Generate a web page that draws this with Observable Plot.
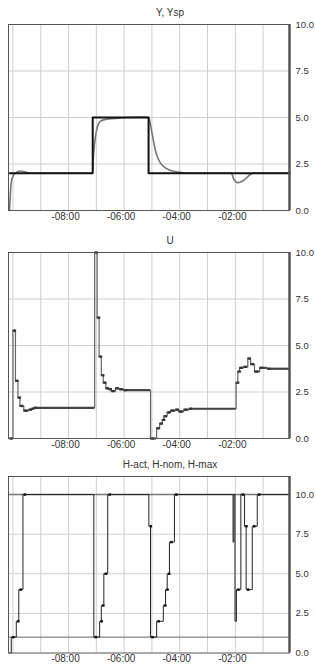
<!DOCTYPE html>
<html>
<head>
<meta charset="utf-8">
<script src="https://cdn.jsdelivr.net/npm/d3@7"></script>
<script src="https://cdn.jsdelivr.net/npm/@observablehq/plot@0.6"></script>
<style>
  html, body { margin: 0; padding: 0; background: #fff; overflow: hidden; }
  #wrap { position: relative; width: 315px; height: 666px; }
  .title { position: absolute; left: 25px; width: 290px; text-align: center;
           font: 10px "Liberation Sans", Arial, sans-serif; color: #333; line-height: 12px; }
</style>
</head>
<body>
<div id="wrap"></div>
<script>
// ---- axes / ticks ----
const xDomain = [-10.16, -0.05];               // minutes
const gridMinutes = [-10, -9, -8, -7, -6, -5, -4, -3, -2, -1];
const xTickMinutes = [-8, -6, -4, -2];
const yTicks = [0, 2.5, 5, 7.5, 10];

// ---- Panel 1: Y, Ysp ----
const ySpTime  = [-10.12, -7.13, -5.12, -0.05];
const ySpValue = [2, 5, 2, 2];
const yTime  = [-10.12, -10.09, -10.05, -9.98, -9.87, -9.73, -9.58, -9.37, -7.14, -7.10, -7.03, -6.96, -6.85, -6.67, -6.31, -5.95, -5.42, -5.12, -4.99, -4.87, -4.75, -4.57, -4.33, -3.97, -3.73, -2.14, -2.06, -1.92, -1.78, -1.60, -1.45, -1.35, -1.17, -0.05];
const yValue = [0, 1.0, 1.6, 1.9, 2.05, 2.12, 2.08, 2.0, 2.0, 3.0, 4.0, 4.5, 4.8, 4.9, 4.95, 5.0, 5.02, 5.0, 4.1, 3.2, 2.7, 2.35, 2.15, 2.05, 2.0, 2.0, 1.7, 1.5, 1.55, 1.75, 1.95, 2.02, 2.0, 2.0];

// ---- Panel 2: U ----
const uTime  = [-10.12, -10.0, -9.91, -9.82, -9.75, -9.61, -9.43, -9.34, -9.25, -7.06, -6.97, -6.90, -6.82, -6.75, -6.66, -6.55, -6.46, -6.31, -6.17, -6.02, -5.05, -4.83, -4.72, -4.63, -4.57, -4.45, -4.33, -4.15, -4.03, -3.85, -3.67, -1.97, -1.91, -1.85, -1.70, -1.55, -1.45, -1.31, -1.12, -0.85, -0.05];
const uValue = [0, 5.8, 3.1, 2.2, 1.75, 1.5, 1.55, 1.6, 1.65, 10, 6.5, 4.4, 3.4, 3.0, 2.7, 2.65, 2.55, 2.7, 2.65, 2.6, 0, 0.55, 0.8, 1.0, 1.2, 1.4, 1.5, 1.55, 1.45, 1.55, 1.6, 3.0, 3.6, 3.8, 3.85, 4.3, 4.0, 3.6, 3.8, 3.75, 3.7];

// ---- Panel 3: H-act, H-nom, H-max ----
const hActTime  = [-10.12, -10.06, -9.88, -9.79, -9.64, -7.09, -6.88, -6.82, -6.73, -6.59, -5.11, -5.05, -4.83, -4.59, -4.51, -4.45, -4.37, -4.19, -2.08, -2.05, -2.01, -1.96, -1.80, -1.67, -1.61, -1.39, -1.21, -0.05];
const hActValue = [0, 1, 2, 4, 10, 1, 2, 3, 5, 10, 8, 1, 2, 3, 4, 5, 7, 10, 7, 10, 2, 4, 10, 8, 4, 8, 10, 10];
const hNomTime  = [-10.16, -0.05];
const hNomValue = [1, 1];
const hMaxTime  = [-10.16, -0.05];
const hMaxValue = [10, 10];

const titles = ["Y, Ysp", "U", "H-act, H-nom, H-max"];

const zip = (ts, vs) => ts.map((t, i) => ({t, v: vs[i], t2: i < ts.length - 1 ? ts[i + 1] : t, dur: i < ts.length - 1 ? ts[i + 1] - t : 0}));
const fmtX = d => "-" + String(Math.abs(d)).padStart(2, "0") + ":00";
const FONT = '"Liberation Sans", Arial, sans-serif';

function panel({height, marginTop, marginBottom, yDomain, marks}) {
  return Plot.plot({
    width: 315, height, marginLeft: 8, marginRight: 26, marginTop, marginBottom,
    style: {background: "transparent", fontFamily: FONT, fontSize: "10px", color: "#333", overflow: "visible"},
    x: {domain: xDomain},
    y: {domain: yDomain},
    marks: [
      Plot.gridX(gridMinutes, {stroke: "#cfcfcf", strokeOpacity: 1, strokeWidth: 1}),
      Plot.gridY(yTicks.filter(d => d > 0 && d < yDomain[1]), {stroke: "#cfcfcf", strokeOpacity: 1, strokeWidth: 1}),
      ...marks,
      Plot.frame({stroke: "#555"}),
      Plot.ruleX([xDomain[1]], {stroke: "#555", strokeWidth: 2.5}),
      Plot.axisX(xTickMinutes, {tickSize: 0, tickPadding: 2, tickFormat: fmtX, dx: -3, label: null, fill: "#333"}),
      Plot.axisY(yTicks, {anchor: "right", tickSize: 0, tickPadding: 6, tickFormat: d => d.toFixed(1), label: null, fill: "#333", fontSize: 9.5})
    ]
  });
}

const p1 = panel({
  height: 224, marginTop: 24, marginBottom: 14, yDomain: [0, 10],
  marks: [
    Plot.line(zip(yTime, yValue), {x: "t", y: "v", stroke: "#777", strokeWidth: 1.6, curve: "monotone-x"}),
    Plot.line(zip(ySpTime, ySpValue), {x: "t", y: "v", stroke: "#111", strokeWidth: 2, curve: "step-after"})
  ]
});

const uData = zip(uTime, uValue);
const p2 = panel({
  height: 230, marginTop: 30, marginBottom: 14, yDomain: [0, 10],
  marks: [
    Plot.line(uData, {x: "t", y: "v", stroke: "#666", strokeWidth: 1.2, curve: "step-after"}),
    Plot.ruleY(uData.slice(0, -1), {y: "v", x1: "t", x2: "t2", stroke: "#444", strokeWidth: 2.2}),
    Plot.dot(uData.slice(0, -1), {x: "t", y: "v", symbol: "square", r: 1.3, fill: "#333", stroke: null, dx: 2})
  ]
});

const hData = zip(hActTime, hActValue);
const p3 = panel({
  height: 222, marginTop: 32, marginBottom: 13.5, yDomain: [0, 11.14],
  marks: [
    Plot.line(zip(hMaxTime, hMaxValue), {x: "t", y: "v", stroke: "#777", strokeWidth: 1.5}),
    Plot.line(zip(hNomTime, hNomValue), {x: "t", y: "v", stroke: "#666", strokeWidth: 1}),
    Plot.line(hData, {x: "t", y: "v", stroke: "#222", strokeWidth: 1, curve: "step-after"}),
    Plot.dot(hData.slice(1, -1).filter(d => d.dur > 0.05), {x: "t", y: "v", symbol: "square", r: 1.4, fill: "#111", stroke: null, dx: 2})
  ]
});

const wrap = document.getElementById("wrap");
const layout = [
  {svg: p1, top: 0,   titleTop: 7},
  {svg: p2, top: 222, titleTop: 235},
  {svg: p3, top: 444, titleTop: 459}
];
layout.forEach((l, i) => {
  const t = document.createElement("div");
  t.className = "title";
  t.style.top = l.titleTop + "px";
  t.textContent = titles[i];
  wrap.appendChild(t);
  l.svg.style.position = "absolute";
  l.svg.style.top = l.top + "px";
  l.svg.style.left = "0px";
  wrap.appendChild(l.svg);
});
</script>
</body>
</html>
